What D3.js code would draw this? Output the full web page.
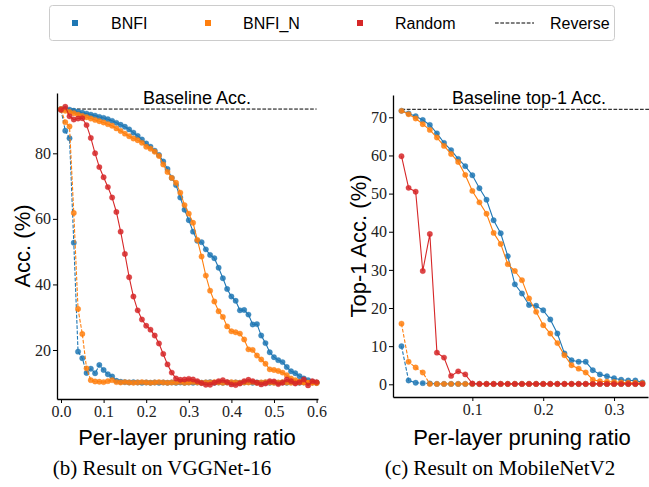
<!DOCTYPE html>
<html>
<head>
<meta charset="utf-8">
<script src="https://cdn.jsdelivr.net/npm/d3@7"></script>
<style>
  body { margin: 0; background: #fff; }
  svg { display: block; }
</style>
</head>
<body>
<svg id="chart" width="649" height="487"></svg>
<script>
// per-layer pruning ratios (x) for each network
var vggRatio = [0.00, 0.01, 0.02, 0.03, 0.04, 0.05, 0.06, 0.07, 0.08, 0.09,
    0.10, 0.11, 0.12, 0.13, 0.14, 0.15, 0.16, 0.17, 0.18, 0.19,
    0.20, 0.21, 0.22, 0.23, 0.24, 0.25, 0.26, 0.27, 0.28, 0.29,
    0.30, 0.31, 0.32, 0.33, 0.34, 0.35, 0.36, 0.37, 0.38, 0.39,
    0.40, 0.41, 0.42, 0.43, 0.44, 0.45, 0.46, 0.47, 0.48, 0.49,
    0.50, 0.51, 0.52, 0.53, 0.54, 0.55, 0.56, 0.57, 0.58, 0.59, 0.60];
var mobRatio = [0.00, 0.01, 0.02, 0.03, 0.04, 0.05, 0.06, 0.07, 0.08, 0.09,
    0.10, 0.11, 0.12, 0.13, 0.14, 0.15, 0.16, 0.17, 0.18, 0.19,
    0.20, 0.21, 0.22, 0.23, 0.24, 0.25, 0.26, 0.27, 0.28, 0.29,
    0.30, 0.31, 0.32, 0.33, 0.34];

// VGGNet-16 accuracy (%)
var vggBnfi = [93.5, 93.6, 93.3, 93.0, 92.7, 92.4, 92.1, 91.8, 91.5, 91.1,
    90.8, 90.4, 89.9, 89.3, 88.7, 88.1, 87.3, 86.3, 85.3, 84.2,
    83.0, 82.0, 80.8, 79.5, 77.5, 75.2, 72.5, 70.3, 66.5, 62.8,
    59.6, 56.1, 53.3, 52.9, 50.7, 49.0, 48.0, 45.1, 41.9, 38.6,
    36.3, 35.0, 32.1, 32.2, 30.8, 27.8, 27.9, 24.4, 22.1, 19.3,
    17.8, 16.9, 16.3, 14.8, 13.5, 12.9, 12.0, 11.3, 10.8, 10.3, 10.0];
var vggBnfiN = [93.5, 93.0, 92.6, 92.2, 91.8, 91.4, 91.0, 90.6, 90.2, 89.8,
    89.4, 88.9, 88.4, 87.6, 86.8, 86.0, 85.2, 84.5, 84.0, 83.2,
    82.0, 81.4, 80.5, 79.2, 76.6, 74.3, 72.5, 71.0, 68.0, 64.2,
    61.6, 58.8, 53.6, 48.5, 42.7, 38.1, 34.8, 31.8, 30.1, 27.2,
    25.7, 25.4, 25.0, 23.2, 20.2, 20.0, 18.3, 17.1, 15.8, 14.1,
    13.9, 13.6, 13.1, 12.3, 11.3, 10.8, 10.3, 10.1, 10.0, 10.0, 9.9];
var vggRandom = [93.3, 94.2, 91.3, 90.3, 90.6, 90.7, 88.6, 84.7, 80.0, 75.8,
    72.7, 69.7, 66.5, 62.1, 56.1, 49.3, 42.2, 36.3, 32.1, 29.3,
    27.4, 26.2, 24.4, 22.0, 18.8, 15.6, 13.1, 11.3, 10.9, 11.0,
    11.2, 11.0, 10.5, 9.9, 9.4, 9.4, 10.0, 10.5, 10.8, 10.2,
    9.5, 9.3, 9.8, 10.5, 10.9, 10.5, 10.0, 9.5, 9.8, 10.5,
    10.4, 9.6, 10.0, 11.0, 10.5, 9.8, 10.2, 11.0, 9.2, 10.5, 10.2];
var vggBnfiRev = [93.3, 86.9, 84.6, 52.7, 19.5, 17.5, 13.0, 14.3, 12.9, 15.4,
    13.9, 12.6, 11.9, 10.6, 10.3, 10.2, 10.1, 10.2, 10.1, 10.0,
    10.1, 10.0, 10.1, 10.0, 10.1, 10.0, 10.1, 10.0, 10.1, 10.0,
    10.1, 10.0, 10.1, 10.0, 10.1, 10.2, 10.0, 10.1, 10.0, 10.1,
    10.0, 10.1, 10.0, 10.1, 10.2, 10.0, 10.1, 10.0, 10.1, 10.0,
    10.1, 10.0, 10.1, 10.0, 10.2, 10.1, 10.0, 10.1, 10.0, 10.1, 10.0];
var vggBnfiNRev = [93.3, 89.5, 88.2, 61.8, 32.5, 24.9, 14.4, 10.8, 10.4, 10.3,
    10.2, 10.5, 10.8, 10.2, 10.1, 10.2, 10.1, 10.0, 10.1, 10.2,
    10.1, 10.0, 10.1, 10.2, 10.1, 10.0, 10.1, 10.1, 10.2, 10.0,
    10.1, 10.2, 10.1, 10.0, 10.1, 10.1, 10.2, 10.1, 10.0, 10.1,
    10.2, 10.1, 10.0, 10.1, 10.1, 10.2, 10.0, 10.1, 10.2, 10.1,
    10.0, 10.1, 10.2, 10.1, 10.0, 10.1, 10.1, 10.2, 10.0, 10.1, 10.0];
var vggBaseline = 93.5;

// MobileNetV2 top-1 accuracy (%)
var mobBnfi = [71.7, 71.0, 70.3, 69.3, 68.0, 65.8, 63.3, 61.4, 59.1, 57.2,
    54.8, 51.4, 48.4, 43.0, 39.6, 33.6, 26.2, 23.8, 20.8, 20.6,
    19.4, 17.0, 13.3, 8.1, 6.3, 5.9, 5.9, 3.7, 2.6, 2.1,
    1.6, 1.2, 1.0, 1.0, 0.5];
var mobBnfiN = [71.7, 70.8, 69.7, 68.2, 66.7, 64.7, 62.5, 60.4, 58.3, 54.9,
    50.7, 47.7, 44.7, 39.7, 36.8, 31.5, 29.7, 27.3, 22.5, 19.0,
    15.5, 13.3, 10.8, 7.6, 5.0, 4.1, 3.1, 1.2, 0.8, 0.7,
    0.6, 0.5, 0.4, 0.4, 0.3];
var mobRandom = [59.8, 51.5, 50.5, 29.7, 39.4, 8.3, 7.0, 2.2, 3.4, 2.6,
    0.2, 0.1, 0.1, 0.1, 0.1, 0.1, 0.1, 0.1, 0.1, 0.1,
    0.1, 0.1, 0.1, 0.1, 0.1, 0.1, 0.1, 0.1, 0.1, 0.1,
    0.1, 0.1, 0.1, 0.1, 0.1];
var mobBnfiRev = [10.0, 1.0, 0.4, 0.3, 0.2, 0.1, 0.1, 0.1, 0.1, 0.1,
    0.1, 0.1, 0.1, 0.1, 0.1, 0.1, 0.1, 0.1, 0.1, 0.1,
    0.1, 0.1, 0.1, 0.1, 0.1, 0.1, 0.1, 0.1, 0.1, 0.1,
    0.1, 0.1, 0.1, 0.1, 0.1];
var mobBnfiNRev = [15.9, 5.9, 4.4, 3.1, 0.1, 0.1, 0.1, 0.1, 0.1, 0.1,
    0.1, 0.1, 0.1, 0.1, 0.1, 0.1, 0.1, 0.1, 0.1, 0.1,
    0.1, 0.1, 0.1, 0.1, 0.1, 0.1, 0.1, 0.1, 0.1, 0.1,
    0.1, 0.1, 0.1, 0.1, 0.1];
var mobBaseline = 72.1;

var legendNames = ["BNFI", "BNFI_N", "Random", "Reverse"];
var vggXTicks = [0.0, 0.1, 0.2, 0.3, 0.4, 0.5, 0.6];
var vggYTicks = [20, 40, 60, 80];
var mobXTicks = [0.1, 0.2, 0.3];
var mobYTicks = [0, 10, 20, 30, 40, 50, 60, 70];

var blue = "#1f77b4", orange = "#ff7f0e", red = "#d62728";
var sans = "'Liberation Sans', Arial, sans-serif",
    serif = "'Liberation Serif', 'Times New Roman', serif";

var svg = d3.select("#chart");

function drawPanel(p) {
    var x = d3.scaleLinear().domain(p.xDomain).range(p.xRange),
        y = d3.scaleLinear().domain(p.yDomain).range(p.yRange);
    var g = svg.append("g");

    var lines = [
        {v: p.bnfi, c: blue, dash: null},
        {v: p.bnfiRev, c: blue, dash: "3.7,1.6"},
        {v: p.bnfiN, c: orange, dash: null},
        {v: p.bnfiNRev, c: orange, dash: "3.7,1.6"},
        {v: p.random, c: red, dash: null}
    ];
    var line = d3.line()
        .x(function (d, i) {return x(p.ratio[i]);})
        .y(function (d) {return y(d);});

    // baseline
    g.append("line")
        .attr("x1", x(p.ratio[0])).attr("x2", p.baseEnd === undefined ? x(p.ratio[p.ratio.length - 1]) : p.baseEnd)
        .attr("y1", y(p.baseline)).attr("y2", y(p.baseline))
        .attr("stroke", "#000").attr("stroke-width", 1)
        .attr("stroke-dasharray", "3.7,1.6");
    g.append("text")
        .attr("x", p.baseTextX).attr("y", y(p.baseline) - 5)
        .attr("text-anchor", "middle")
        .style("font-family", sans).style("font-size", "18px")
        .text(p.baseText);

    lines.forEach(function (s) {
        var sg = g.append("g");
        sg.append("path")
            .attr("d", line(s.v))
            .attr("fill", "none")
            .attr("stroke", s.c)
            .attr("stroke-width", 1.1)
            .attr("stroke-dasharray", s.dash);
        sg.selectAll("circle")
            .data(s.v)
            .enter().append("circle")
            .attr("cx", function (d, i) {return x(p.ratio[i]);})
            .attr("cy", function (d) {return y(d);})
            .attr("r", 2.7)
            .attr("fill", s.c)
            .attr("fill-opacity", 0.85)
            .attr("stroke", s.c)
            .attr("stroke-opacity", 0.4)
            .attr("stroke-width", 0.8);
    });

    var xAxis = g.append("g")
        .attr("transform", "translate(0," + p.yRange[0] + ")")
        .call(d3.axisBottom(x).tickValues(p.xTicks).tickFormat(d3.format(".1f"))
            .tickSize(4).tickSizeOuter(0).tickPadding(3));
    var yAxis = g.append("g")
        .attr("transform", "translate(" + p.xRange[0] + ",0)")
        .call(d3.axisLeft(y).tickValues(p.yTicks).tickFormat(d3.format("d"))
            .tickSize(4).tickSizeOuter(0).tickPadding(2));
    [xAxis, yAxis].forEach(function (a) {
        a.select(".domain").attr("stroke", "#000").attr("stroke-width", 1.3);
        a.selectAll(".tick line").attr("stroke", "#000").attr("stroke-width", 1);
        a.selectAll(".tick text")
            .style("font-family", serif).style("font-size", "16px").attr("fill", "#222");
    });

    g.append("text")
        .attr("transform", "translate(" + p.yLabelX + "," + (p.yRange[0] + p.yRange[1]) / 2 + ")rotate(-90)")
        .attr("text-anchor", "middle").attr("dominant-baseline", "central")
        .style("font-family", sans).style("font-size", "22px")
        .text(p.yLabel);
    g.append("text")
        .attr("x", p.xLabelX).attr("y", 445)
        .attr("text-anchor", "middle")
        .style("font-family", sans).style("font-size", "22px")
        .text("Per-layer pruning ratio");
    g.append("text")
        .attr("x", p.captionX).attr("y", 475)
        .attr("text-anchor", "middle")
        .style("font-family", serif).style("font-size", "21px")
        .text(p.caption);
}

drawPanel({
    ratio: vggRatio, bnfi: vggBnfi, bnfiN: vggBnfiN, random: vggRandom,
    bnfiRev: vggBnfiRev, bnfiNRev: vggBnfiNRev, baseline: vggBaseline,
    xDomain: [-0.0094, 0.6033], xRange: [57, 318],
    yDomain: [5.05, 98.4], yRange: [399, 93],
    xTicks: vggXTicks, yTicks: vggYTicks,
    baseText: "Baseline Acc.", baseTextX: 197,
    yLabel: "Acc. (%)", yLabelX: 22, xLabelX: 187,
    caption: "(b) Result on VGGNet-16", captionX: 162
});
drawPanel({
    ratio: mobRatio, bnfi: mobBnfi, bnfiN: mobBnfiN, random: mobRandom,
    bnfiRev: mobBnfiRev, bnfiNRev: mobBnfiNRev, baseline: mobBaseline,
    xDomain: [-0.012, 0.3479], xRange: [393, 648],
    yDomain: [-3.33, 75.85], yRange: [397, 95],
    xTicks: mobXTicks, yTicks: mobYTicks, baseEnd: 649,
    baseText: "Baseline top-1 Acc.", baseTextX: 529,
    yLabel: "Top-1 Acc. (%)", yLabelX: 358, xLabelX: 522,
    caption: "(c) Result on MobileNetV2", captionX: 500
});

// legend
var lg = svg.append("g");
lg.append("rect")
    .attr("x", 49.5).attr("y", 5.5).attr("width", 565).attr("height", 35).attr("rx", 3)
    .attr("fill", "#fff").attr("stroke", "#ccc").attr("stroke-width", 1);
var legendItems = [
    {name: legendNames[0], c: blue, mx: 75, tx: 111},
    {name: legendNames[1], c: orange, mx: 208, tx: 243},
    {name: legendNames[2], c: red, mx: 360, tx: 395},
    {name: legendNames[3], c: "#000", mx: null, tx: 550}
];
legendItems.forEach(function (it) {
    if (it.mx !== null) {
        lg.append("rect")
            .attr("x", it.mx - 3).attr("y", 20).attr("width", 6).attr("height", 6)
            .attr("fill", it.c);
    } else {
        lg.append("line")
            .attr("x1", 495).attr("x2", 534).attr("y1", 23).attr("y2", 23)
            .attr("stroke", "#000").attr("stroke-width", 1)
            .attr("stroke-dasharray", "3.7,1.6");
    }
    lg.append("text")
        .attr("x", it.tx).attr("y", 23)
        .attr("dominant-baseline", "central")
        .style("font-family", sans).style("font-size", "16px")
        .text(it.name);
});
</script>
</body>
</html>
